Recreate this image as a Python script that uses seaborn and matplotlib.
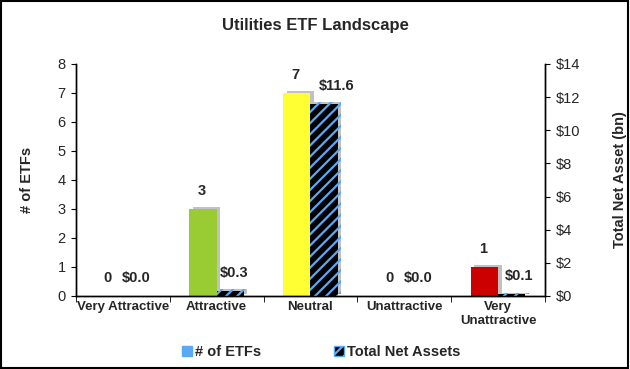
import pandas as pd
import seaborn as sns
import matplotlib
import matplotlib.pyplot as plt
from matplotlib.patches import Patch, Rectangle
import matplotlib.patheffects as pe

matplotlib.use("Agg")

categories = ["Very Attractive", "Attractive", "Neutral", "Unattractive", "Very\nUnattractive"]
etf_counts = [0, 3, 7, 0, 1]
net_assets = [0.0, 0.3, 11.6, 0.0, 0.1]
bar_colors = ["#00A651", "#99CC33", "#FFFF33", "#FF9900", "#CC0000"]
series = ["# of ETFs", "Total Net Assets"]

# small horizontal nudges of the asset labels (points), as in the original layout
asset_label_dx = [0, 3, 9, 0, 5]

sns.set_style("white")
plt.rcParams["font.family"] = ["Liberation Sans", "DejaVu Sans"]
plt.rcParams["hatch.linewidth"] = 1.6
plt.rcParams["hatch.color"] = "#5BA8F5"

df_count = pd.DataFrame({"category": categories, "series": series[0], "value": etf_counts})
df_assets = pd.DataFrame({"category": categories, "series": series[1], "value": net_assets})

fig = plt.figure(figsize=(6.3, 3.69), dpi=100)
ax = fig.add_axes([0.1206, 0.198, 0.7444, 0.6286])
ax2 = ax.twinx()

sns.barplot(data=df_count, x="category", y="value", hue="series", hue_order=series,
            order=categories, dodge=True, width=0.58, ax=ax, legend=False, errorbar=None)
sns.barplot(data=df_assets, x="category", y="value", hue="series", hue_order=series,
            order=categories, dodge=True, width=0.58, ax=ax2, legend=False, errorbar=None)

shadow = [pe.SimplePatchShadow(offset=(2.5, 1.2), shadow_rgbFace="#999999", alpha=0.6), pe.Normal()]

for p, c, v in zip(ax.patches, bar_colors, etf_counts):
    p.set_facecolor(c)
    p.set_edgecolor(c)
    p.set_linewidth(0)
    p.set_path_effects(shadow)
    ax.annotate(f"{v}", (p.get_x() + p.get_width() / 2, p.get_height()),
                xytext=(-1, 8), textcoords="offset points", ha="center", va="bottom",
                fontsize=10.5, fontweight="bold")

for p, v, dx in zip(ax2.patches, net_assets, asset_label_dx):
    p.set_facecolor("black")
    p.set_edgecolor("#5BA8F5")
    p.set_hatch("///")
    p.set_linewidth(0)
    p.set_path_effects(shadow)
    ax2.annotate(f"${v:.1f}", (p.get_x() + p.get_width() / 2, p.get_height()),
                 xytext=(dx, 8), textcoords="offset points", ha="center", va="bottom",
                 fontsize=10.5, fontweight="bold")

ax.set_ylim(0, 8)
ax.set_yticks(range(0, 9))
ax2.set_ylim(0, 14)
ax2.set_yticks(range(0, 15, 2))
ax2.set_yticklabels([f"${t}" for t in range(0, 15, 2)])
ax.set_xlim(-0.5, 4.5)

ax.set_xlabel("")
ax.set_ylabel("# of ETFs", fontsize=10.5, fontweight="bold", labelpad=17)
ax2.set_ylabel("Total Net Asset (bn)", fontsize=10.5, fontweight="bold", labelpad=24)
ax2.set_xlabel("")
ax.set_xticks(range(5))
ax.set_xticks([x + 0.5 for x in range(-1, 5)], minor=True)
ax.set_xticklabels(categories, fontsize=9.5, fontweight="bold")
ax.tick_params(axis="x", which="major", length=0, pad=4)
ax.tick_params(axis="x", which="minor", length=4, direction="out", color="black", bottom=True)
ax.tick_params(axis="y", length=3.5, direction="out", color="black", left=True, labelsize=10.5, pad=4)
ax2.tick_params(axis="y", length=3.5, direction="out", color="black", right=True, labelsize=10.5, pad=4)

for a in (ax, ax2):
    a.spines["top"].set_visible(False)
    for s in ["left", "right", "bottom"]:
        a.spines[s].set_color("black")
        a.spines[s].set_linewidth(1)
    a.grid(False)

fig.text(0.5, 0.932, "Utilities ETF Landscape", ha="center", va="center",
         fontsize=12, fontweight="bold")

handles = [Patch(facecolor="#5BA8F5", edgecolor="#5BA8F5"),
           Patch(facecolor="black", edgecolor="#5BA8F5", hatch="///")]
fig.legend(handles, series, loc="center", bbox_to_anchor=(0.51, 0.045), ncol=2,
           frameon=False, prop={"size": 10.5, "weight": "bold"}, handlelength=0.7,
           handleheight=0.7, handletextpad=0.2, columnspacing=5)

fig.patches.append(Rectangle((0.002, 0.003), 0.995, 0.994, transform=fig.transFigure,
                             fill=False, edgecolor="black", linewidth=1.5))

fig.savefig("out.png", dpi=100)
